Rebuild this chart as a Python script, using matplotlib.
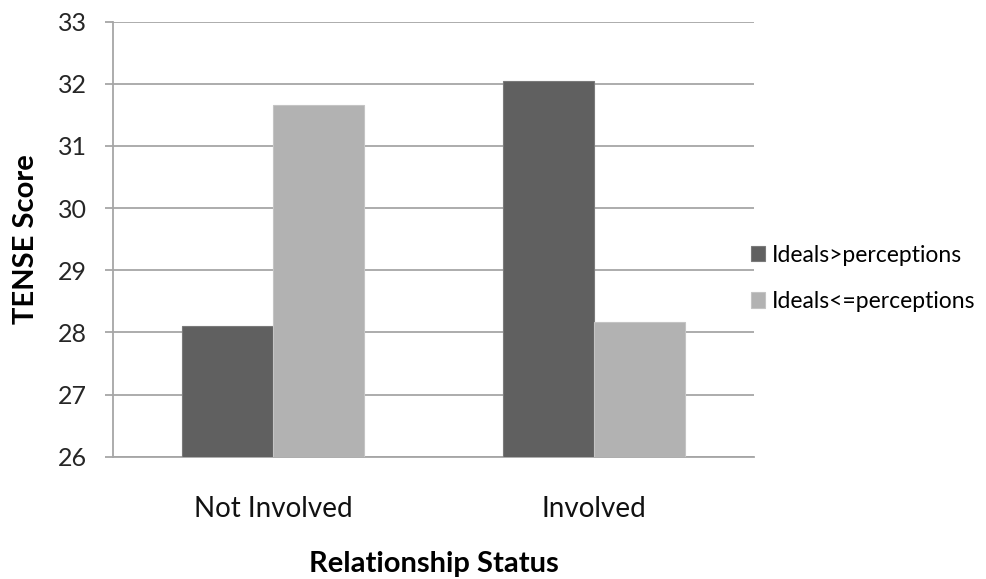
import matplotlib
matplotlib.use("Agg")
import matplotlib.pyplot as plt
import numpy as np

plt.rcParams['font.family'] = ['Lato', 'DejaVu Sans']

categories = ["Not Involved", "Involved"]
series_names = ["Ideals>perceptions", "Ideals<=perceptions"]
ideals_gt = [28.11, 32.05]
ideals_le = [31.66, 28.17]
y_ticks = [26, 27, 28, 29, 30, 31, 32, 33]

dark = "#606060"
light = "#B2B2B2"
grid_c = "#A6A6A6"

fig = plt.figure(figsize=(9.86, 5.79), dpi=100)
ax = fig.add_axes([0.1146, 0.2112, 0.6501, 0.7513])

x = np.arange(len(categories))
w = 0.284
b1 = ax.bar(x - w / 2, ideals_gt, w, color=dark, edgecolor="#7A7A7A",
            linewidth=0.8, label=series_names[0], zorder=3)
b2 = ax.bar(x + w / 2, ideals_le, w, color=light, edgecolor="#C4C4C4",
            linewidth=0.8, label=series_names[1], zorder=3)

ax.set_ylim(26, 33)
ax.set_xlim(-0.5, 1.5)
ax.set_yticks(y_ticks)
ax.set_yticklabels([str(t) for t in y_ticks], fontsize=18, color="#262626")
ax.set_xticks(x)
ax.set_xticklabels(categories, fontsize=20, color="#111111")
ax.tick_params(axis="x", length=0, pad=28)
ax.tick_params(axis="y", length=6, width=1.3, color=grid_c, pad=12.5)

ax.yaxis.grid(True, color=grid_c, linewidth=1.3, zorder=0)
ax.set_axisbelow(True)
for side in ["top", "right"]:
    ax.spines[side].set_visible(False)
for side in ["left", "bottom"]:
    ax.spines[side].set_color(grid_c)
    ax.spines[side].set_linewidth(1.3)

ax.set_ylabel("TENSE Score", fontsize=21, fontweight="bold", labelpad=14)
ax.set_xlabel("Relationship Status", fontsize=21, fontweight="bold", labelpad=21)

fig.legend(handles=[b1, b2], labels=series_names, loc="center left",
           bbox_to_anchor=(0.7617, 0.519), frameon=False, fontsize=16.5,
           borderaxespad=0, borderpad=0,
           handlelength=0.6, handleheight=0.65, handletextpad=0.3,
           labelspacing=1.1)

fig.savefig("out.png", dpi=100)
